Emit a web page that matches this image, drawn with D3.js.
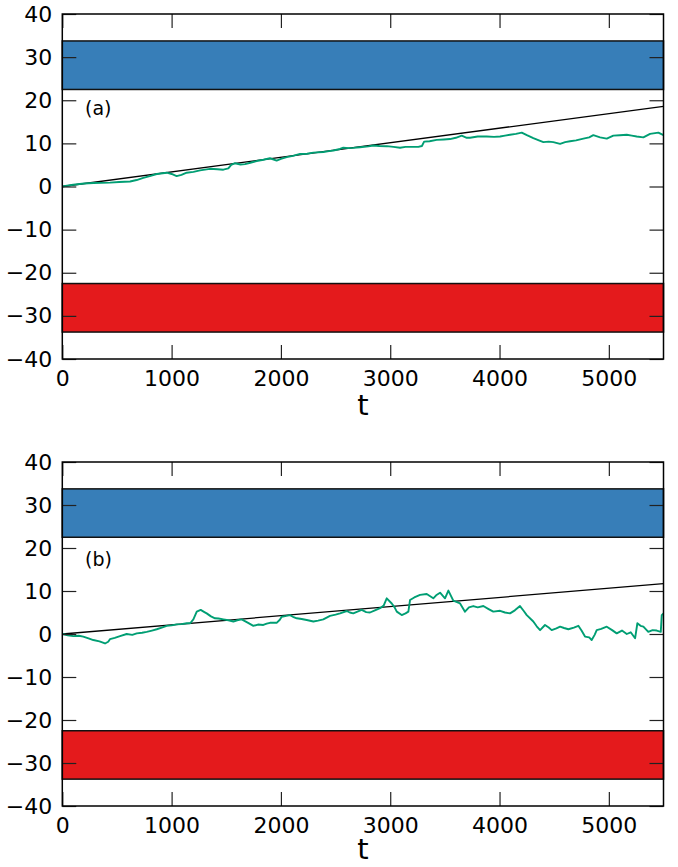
<!DOCTYPE html>
<html><head><meta charset="utf-8">
<script src="https://cdn.jsdelivr.net/npm/d3@7"></script>
<style>body{margin:0;background:#fff}svg{display:block}text{font-family:"DejaVu Sans",sans-serif}</style>
</head><body><svg id="c" width="678" height="867"></svg>
<script>
const xTicks = [0,1000,2000,3000,4000,5000];
const yTicks = [-40,-30,-20,-10,0,10,20,30,40];
const upperBand = [22.5, 33.75];
const lowerBand = [-33.75, -22.5];

const tA = [0,100,200,284,360,436,520,620,680,741,800,864,955,1000,1046,1090,1138,1200,1260,1351,1420,1473,1519,1545,1580,1630,1672,1720,1778,1840,1900,1961,2000,2053,2110,2175,2240,2297,2388,2440,2480,2540,2571,2620,2662,2724,2800,2846,2900,2968,3030,3090,3140,3181,3257,3290,3310,3360,3425,3490,3547,3600,3654,3700,3730,3800,3883,3950,4005,4050,4096,4150,4203,4250,4309,4360,4401,4450,4492,4554,4600,4645,4700,4767,4820,4858,4920,4981,5041,5100,5164,5210,5255,5316,5377,5453,5500];
const vA = [0,0.4,0.7,0.8,0.85,0.9,1.05,1.15,1.5,2.0,2.4,2.9,3.2,2.9,2.4,2.7,3.2,3.4,3.75,4.1,4.0,3.9,4.2,5.0,5.4,5.1,5.2,5.5,5.9,6.2,6.55,6.0,6.4,6.8,7.1,7.55,7.6,7.85,8.0,8.2,8.35,8.7,9.0,8.9,8.95,9.1,9.3,9.5,9.4,9.35,9.2,9.0,9.2,9.2,9.2,9.4,10.4,10.5,10.8,10.9,11.0,11.3,11.8,11.3,11.3,11.6,11.6,11.5,11.6,11.8,12.0,12.2,12.5,11.9,11.2,10.7,10.3,10.4,10.3,9.9,10.3,10.5,10.7,11.1,11.4,11.9,11.4,11.1,11.8,11.9,12.0,11.8,11.6,11.4,12.2,12.5,11.9];
const trendA_t = [0,5500];
const trendA_v = [0,18.6];

const tB = [0,50,101,150,192,240,284,340,391,420,436,480,528,589,640,681,730,772,820,864,910,955,1000,1046,1090,1138,1170,1199,1230,1266,1300,1321,1360,1397,1430,1473,1520,1565,1600,1641,1700,1748,1790,1839,1870,1900,1961,1990,2007,2050,2083,2110,2145,2190,2236,2297,2340,2388,2449,2500,2541,2602,2630,2662,2700,2739,2780,2815,2860,2907,2940,2968,3014,3040,3060,3105,3140,3166,3181,3220,3273,3334,3394,3420,3456,3501,3532,3577,3639,3684,3720,3760,3800,3852,3900,3943,4005,4050,4096,4140,4187,4220,4249,4309,4340,4371,4416,4450,4477,4520,4554,4590,4630,4680,4721,4750,4782,4820,4843,4870,4889,4930,4981,5030,5072,5120,5164,5200,5240,5261,5290,5316,5361,5400,5438,5475,5484,5500];
const vB = [0,-0.3,-0.5,-0.4,-0.6,-1.0,-1.4,-1.7,-2.2,-1.8,-1.2,-0.9,-0.5,0,-0.2,0.15,0.3,0.5,0.8,1.1,1.5,1.9,2.0,2.25,2.3,2.5,2.5,3.4,5.2,5.6,5.1,4.8,4.1,3.65,3.6,3.4,3.2,2.9,3.2,3.4,2.6,1.9,2.2,2.1,2.4,2.6,2.6,3.3,4.0,4.2,4.4,4.0,3.65,3.5,3.25,2.9,3.1,3.4,4.2,4.5,4.8,5.35,5.0,4.8,5.2,5.6,5.1,5.0,5.5,6.0,6.6,8.3,7.1,6.2,5.2,4.4,4.8,5.2,7.9,8.5,9.1,9.3,8.3,9.0,9.6,8.3,10.1,7.75,7.1,5.2,6.2,6.5,6.2,6.5,5.8,5.2,5.4,5.0,4.8,5.5,6.5,5.4,4.4,2.9,1.8,0.9,2.1,1.5,0.9,1.3,1.7,1.4,1.1,1.5,1.9,0.8,-0.6,-0.8,-1.4,-0.2,0.9,1.2,1.7,0.9,0.15,0.8,0,0.4,-1.0,2.5,1.9,1.7,0.5,0.9,0.8,0.5,4.4,4.8];
const trendB_t = [0,5500];
const trendB_v = [0,11.7];

const panels = [
  {top:14, bottom:359, label:"(a)", labelY:114.5, tY:415, t:tA, v:vA, tt:trendA_t, tv:trendA_v},
  {top:462, bottom:806, label:"(b)", labelY:566, tY:859, t:tB, v:vB, tt:trendB_t, tv:trendB_v}
];
const left = 62.3, right = 663.5;
const svg = d3.select("#c");

panels.forEach(p => {
  const x = d3.scaleLinear().domain([0,5500]).range([left,right]);
  const y = d3.scaleLinear().domain([-40,40]).range([p.bottom,p.top]);
  const g = svg.append("g");

  [[upperBand,"#377eb8"],[lowerBand,"#e41a1c"]].forEach(([b,c]) => {
    g.append("rect").attr("x",x(0)).attr("width",x(5500)-x(0))
      .attr("y",y(b[1])).attr("height",y(b[0])-y(b[1]))
      .attr("fill",c).attr("stroke","#111").attr("stroke-width",1.5);
  });

  const ln = d3.line().x(d=>x(d[0])).y(d=>y(d[1]));
  g.append("path").datum(p.tt.map((t,i)=>[t,p.tv[i]])).attr("d",ln)
    .attr("fill","none").attr("stroke","#000").attr("stroke-width",1.3);
  g.append("path").datum(p.t.map((t,i)=>[t,p.v[i]])).attr("d",ln)
    .attr("fill","none").attr("stroke","#009e73").attr("stroke-width",1.9).attr("stroke-linejoin","round");

  const styleAxis = a => {
    a.select(".domain").remove();
    a.selectAll(".tick line").attr("stroke","#222").attr("stroke-width",1.2);
    a.selectAll("text").attr("font-size",22).attr("fill","#000").attr("font-family","DejaVu Sans");
  };
  g.append("g").attr("transform",`translate(0,${p.bottom})`)
    .call(d3.axisBottom(x).tickValues(xTicks).tickSize(-14).tickPadding(11).tickFormat(d3.format("d"))).call(styleAxis);
  g.append("g").attr("transform",`translate(0,${p.top})`)
    .call(d3.axisTop(x).tickValues(xTicks).tickSize(-14).tickFormat("")).call(styleAxis);
  g.append("g").attr("transform",`translate(${left},0)`)
    .call(d3.axisLeft(y).tickValues(yTicks).tickSize(-14).tickPadding(10).tickFormat(d3.format("d"))).call(styleAxis);
  g.append("g").attr("transform",`translate(${right},0)`)
    .call(d3.axisRight(y).tickValues(yTicks).tickSize(-14).tickFormat("")).call(styleAxis);

  g.append("rect").attr("x",left).attr("y",p.top).attr("width",right-left).attr("height",p.bottom-p.top)
    .attr("fill","none").attr("stroke","#000").attr("stroke-width",1.5);

  g.append("text").attr("x",85).attr("y",p.labelY).attr("font-size",19).text(p.label);
  g.append("text").attr("x",(left+right)/2).attr("y",p.tY).attr("text-anchor","middle").attr("font-size",29).text("t");
});
</script></body></html>
